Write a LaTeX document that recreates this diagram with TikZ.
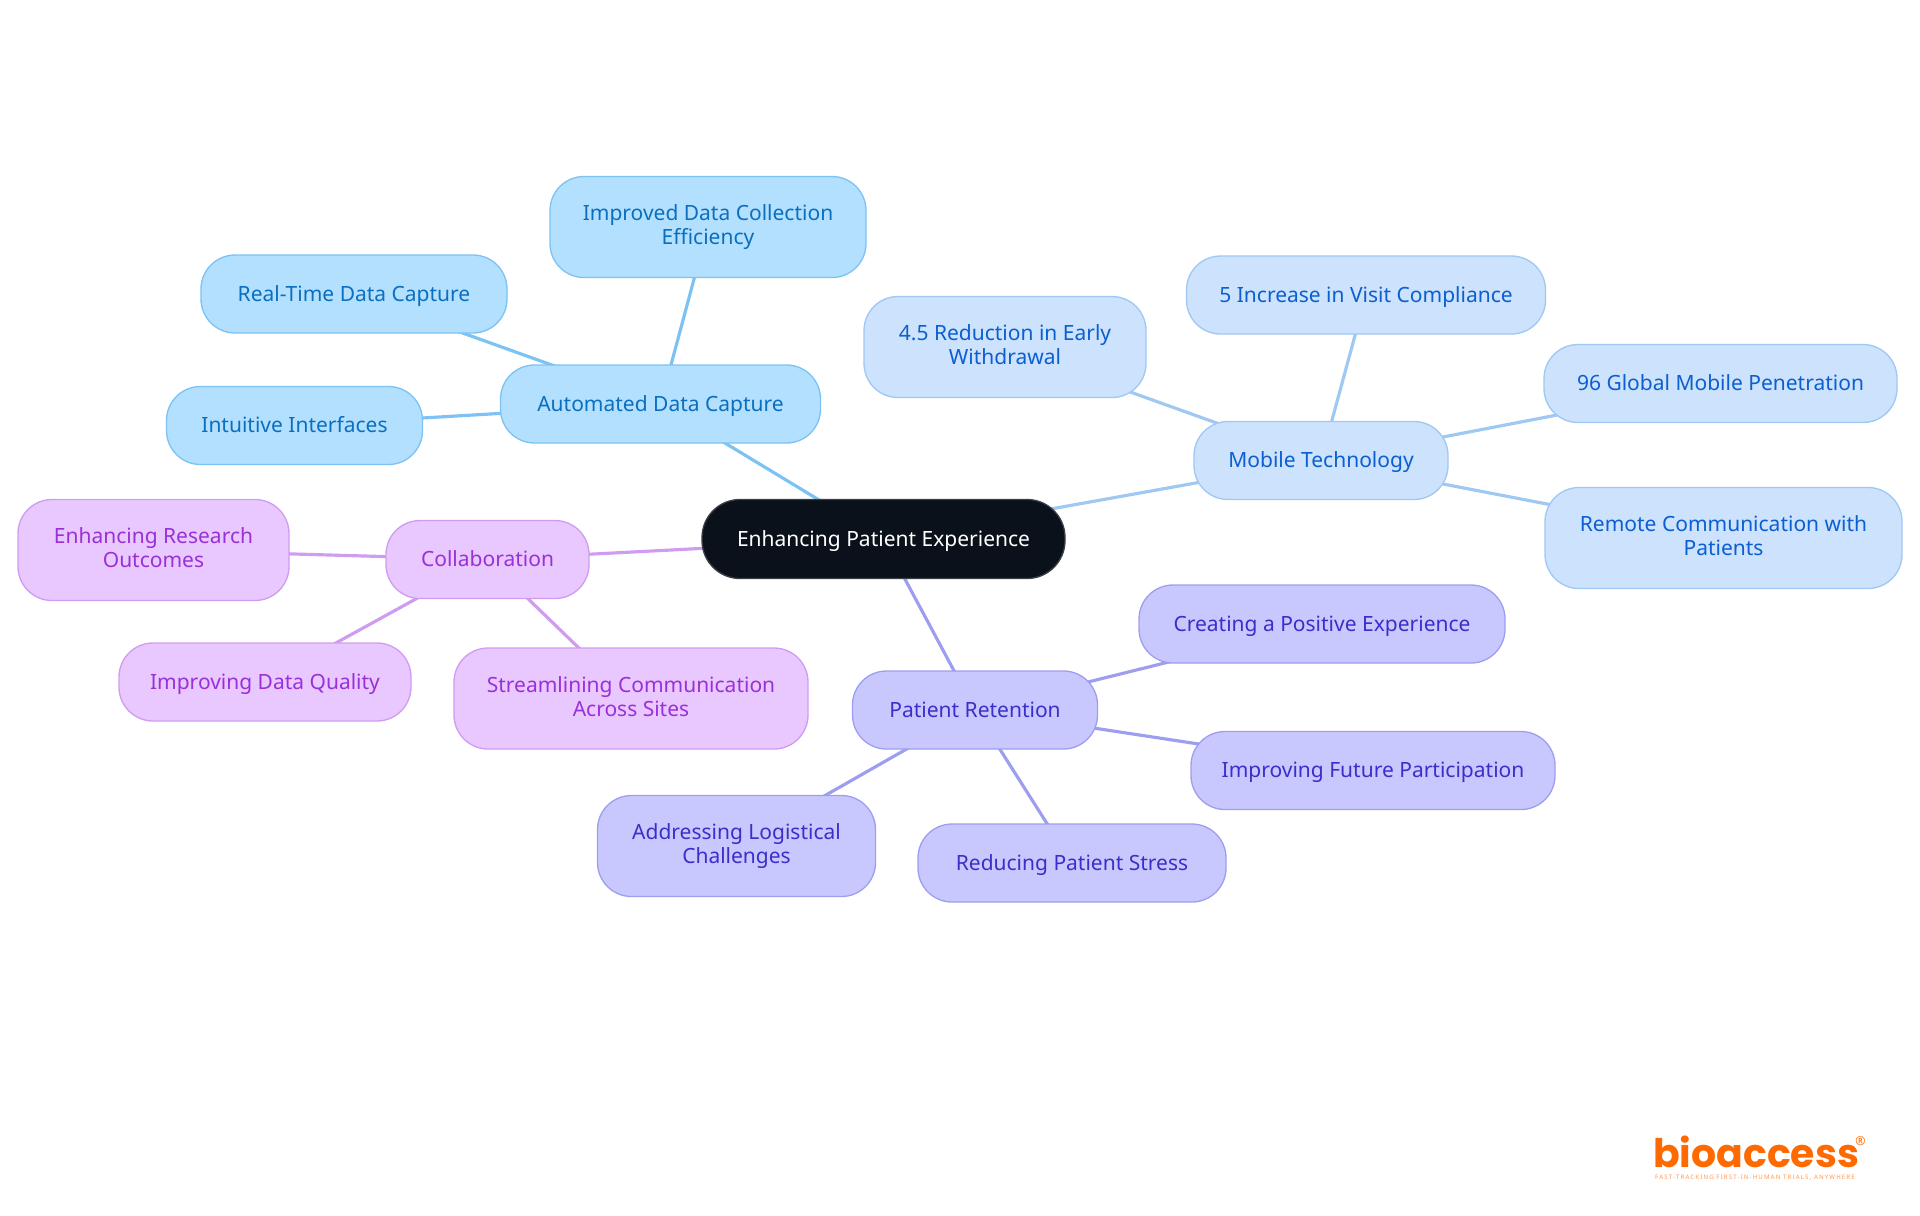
\documentclass[tikz,border=0pt]{standalone}
\usepackage{fontspec}
\usepackage{xcolor}
\usetikzlibrary{backgrounds}
\setmainfont{Noto Sans}
\definecolor{rootfill}{HTML}{0B111A}
\definecolor{rootline}{HTML}{3A3F45}
\definecolor{capfill}{HTML}{B3E0FF}
\definecolor{capline}{HTML}{7CC2F2}
\definecolor{captext}{HTML}{0B6FBF}
\definecolor{mobfill}{HTML}{CCE2FD}
\definecolor{mobline}{HTML}{9FC8F3}
\definecolor{mobtext}{HTML}{0C5FD0}
\definecolor{retfill}{HTML}{C8C8FF}
\definecolor{retline}{HTML}{9E9EF0}
\definecolor{rettext}{HTML}{3A2FC9}
\definecolor{colfill}{HTML}{E8C8FF}
\definecolor{colline}{HTML}{CF9CF0}
\definecolor{coltext}{HTML}{9A30D8}
\definecolor{logoorange}{HTML}{FF6A00}
\newcommand{\boxstrut}{\rule[-2.7pt]{0pt}{13.6pt}}

\begin{document}
\begin{tikzpicture}[
    box/.style={rounded corners=0.68cm, minimum height=1.56cm, inner sep=0pt,
                align=center, line width=0.75pt,
                font=\fontsize{11.95}{13.6}\selectfont,
                execute at begin node=\boxstrut, execute at end node=\boxstrut},
    root/.style={box, rounded corners=0.76cm, fill=rootfill, draw=rootline, text=white},
    capture/.style={box, fill=capfill, draw=capline, text=captext},
    mobile/.style={box, fill=mobfill, draw=mobline, text=mobtext},
    retention/.style={box, fill=retfill, draw=retline, text=rettext},
    collab/.style={box, fill=colfill, draw=colline, text=coltext},
    tall/.style={minimum height=2.02cm},
    conn/.style={line width=1.8pt},
]
\useasboundingbox (0,0) rectangle (38.4,-24.3);

% Nodo central
\node[root, minimum width=7.26cm, minimum height=1.58cm] (center) at (17.67,-10.78) {Enhancing Patient Experience};

% Automated Data Capture
\node[capture, minimum width=6.4cm] (capture) at (13.21,-8.08) {Automated Data Capture};
\node[capture, tall, minimum width=6.32cm] (efficiency) at (14.16,-4.54) {Improved Data Collection\\Efficiency};
\node[capture, minimum width=6.12cm] (realtime) at (7.08,-5.88) {Real-Time Data Capture};
\node[capture, minimum width=5.12cm] (interfaces) at (5.89,-8.51) {Intuitive Interfaces};

% Mobile Technology
\node[mobile, minimum width=5.08cm] (mobile) at (26.42,-9.21) {Mobile Technology};
\node[mobile, tall, minimum width=5.64cm] (withdrawal) at (20.1,-6.94) {4.5 Reduction in Early\\Withdrawal};
\node[mobile, minimum width=7.18cm] (visit) at (27.32,-5.9) {5 Increase in Visit Compliance};
\node[mobile, minimum width=7.06cm] (penetration) at (34.41,-7.67) {96 Global Mobile Penetration};
\node[mobile, tall, minimum width=7.14cm] (remote) at (34.47,-10.76) {Remote Communication with\\Patients};

% Patient Retention
\node[retention, minimum width=4.9cm] (retention) at (19.5,-14.2) {Patient Retention};
\node[retention, minimum width=7.32cm] (positive) at (26.44,-12.48) {Creating a Positive Experience};
\node[retention, minimum width=7.28cm] (future) at (27.46,-15.41) {Improving Future Participation};
\node[retention, minimum width=6.16cm] (stress) at (21.44,-17.26) {Reducing Patient Stress};
\node[retention, tall, minimum width=5.56cm] (logistical) at (14.73,-16.92) {Addressing Logistical\\Challenges};

% Collaboration
\node[collab, minimum width=4.06cm] (collab) at (9.75,-11.19) {Collaboration};
\node[collab, tall, minimum width=5.42cm] (research) at (3.07,-11) {Enhancing Research\\Outcomes};
\node[collab, minimum width=5.84cm] (quality) at (5.3,-13.64) {Improving Data Quality};
\node[collab, tall, minimum width=7.08cm] (sites) at (12.62,-13.97) {Streamlining Communication\\Across Sites};

% Conexiones
\begin{scope}[on background layer]
\draw[conn, capline] (center.center) -- (capture.center);
\draw[conn, capline] (capture.center) -- (efficiency.center);
\draw[conn, capline] (capture.center) -- (realtime.center);
\draw[conn, capline] (capture.center) -- (interfaces.center);
\draw[conn, mobline] (center.center) -- (mobile.center);
\draw[conn, mobline] (mobile.center) -- (withdrawal.center);
\draw[conn, mobline] (mobile.center) -- (visit.center);
\draw[conn, mobline] (mobile.center) -- (penetration.center);
\draw[conn, mobline] (mobile.center) -- (remote.center);
\draw[conn, retline] (center.center) -- (retention.center);
\draw[conn, retline] (retention.center) -- (positive.center);
\draw[conn, retline] (retention.center) -- (future.center);
\draw[conn, retline] (retention.center) -- (stress.center);
\draw[conn, retline] (retention.center) -- (logistical.center);
\draw[conn, colline] (center.center) -- (collab.center);
\draw[conn, colline] (collab.center) -- (research.center);
\draw[conn, colline] (collab.center) -- (quality.center);
\draw[conn, colline] (collab.center) -- (sites.center);
\end{scope}

% Logo
\node[text=logoorange, inner sep=0pt, font=\fontspec{Poppins}\bfseries\fontsize{22.4}{22.4}\selectfont] (logo) at (35.12,-23.03) {bioaccess};
\node[text=logoorange, inner sep=0pt, anchor=west, font=\bfseries\fontsize{7}{7}\selectfont] (reg) at (37.1,-22.82) {®};
\node[text=logoorange!70, inner sep=0pt, font=\addfontfeature{LetterSpace=18}\fontsize{3.5}{3.5}\selectfont] (tagline) at (35.1,-23.56) {FAST-TRACKING FIRST-IN-HUMAN TRIALS, ANYWHERE};
\end{tikzpicture}
\end{document}
